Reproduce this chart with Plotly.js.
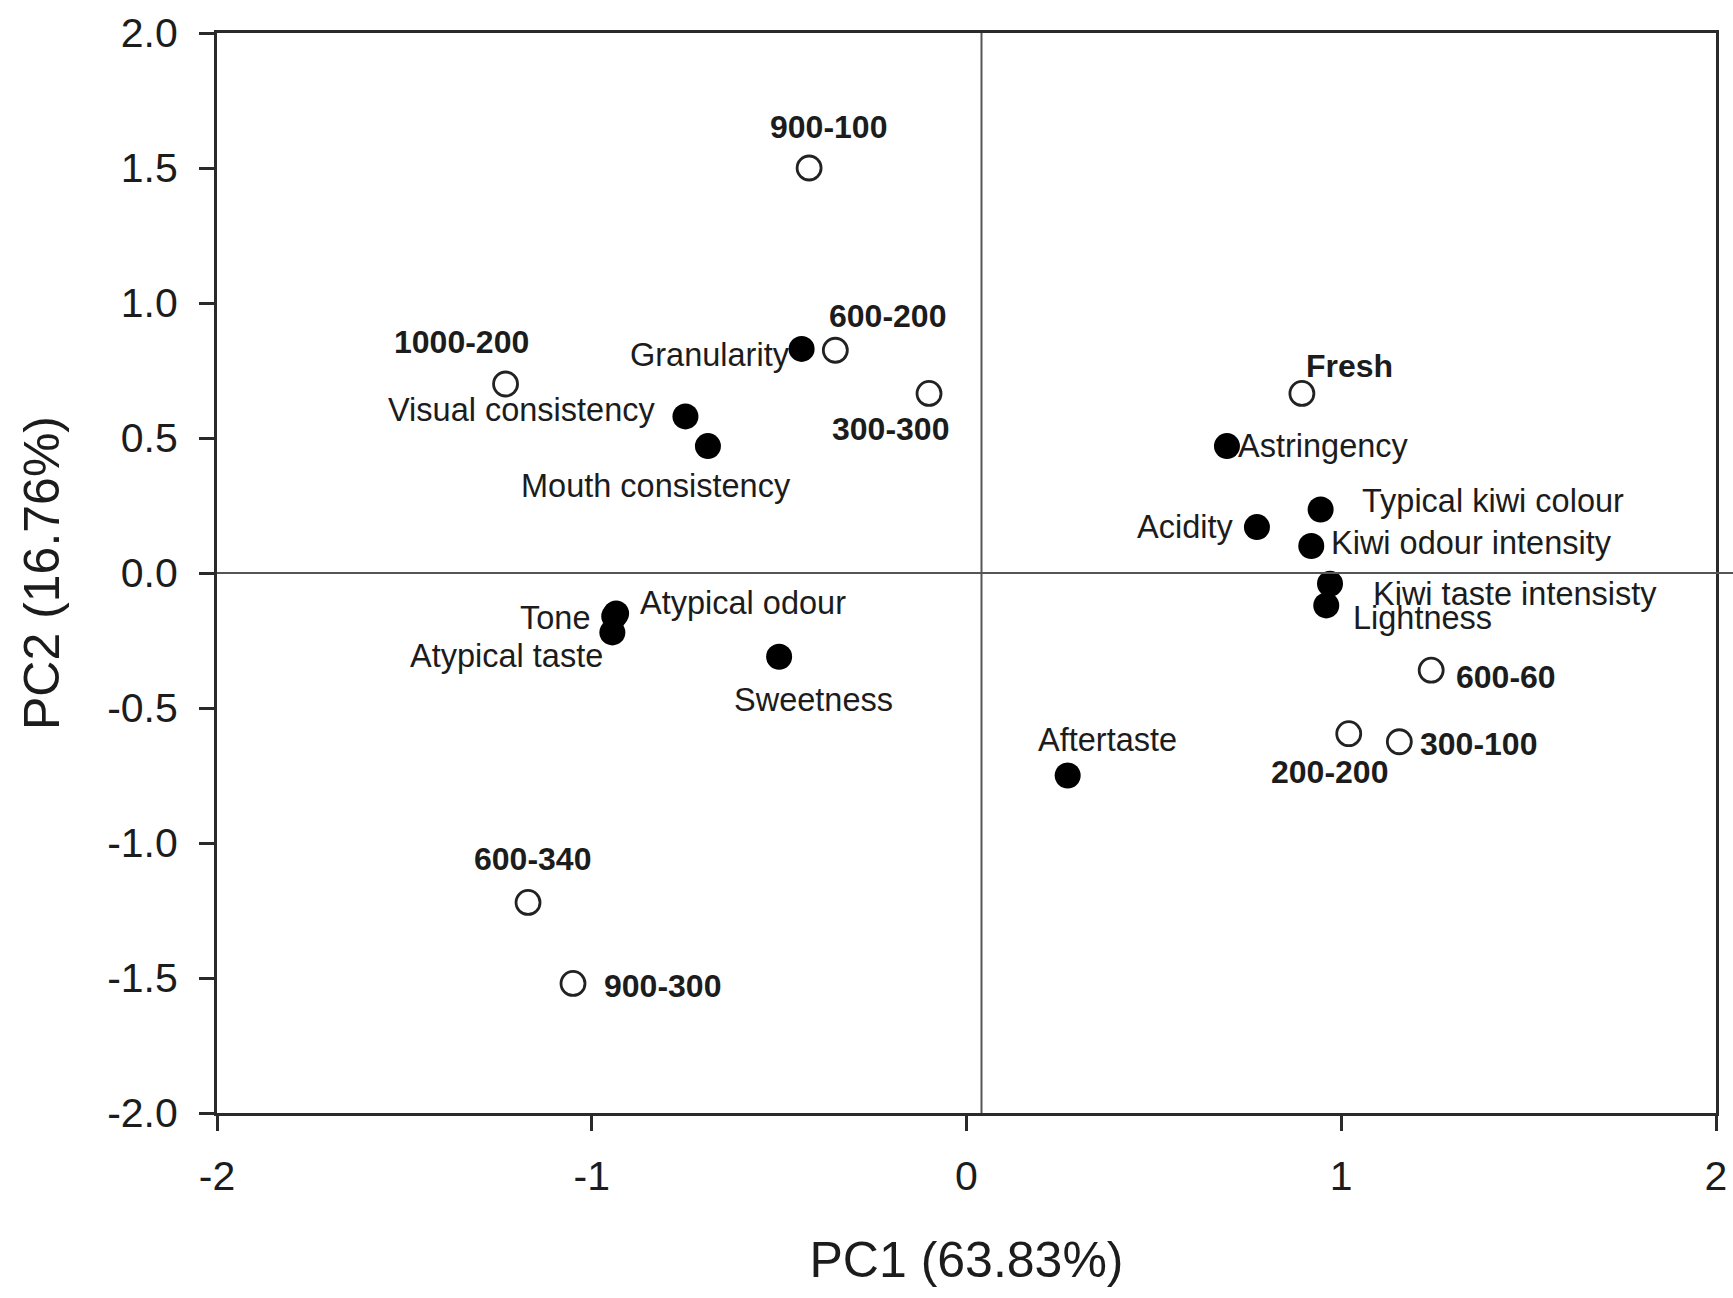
<!DOCTYPE html>
<html>
<head>
<meta charset="utf-8">
<script src="https://cdn.plot.ly/plotly-3.0.1.min.js"></script>
<style>
  html, body { margin: 0; padding: 0; background: #ffffff; }
  #chart { width: 1733px; height: 1298px; }
</style>
</head>
<body>
<div id="chart"></div>
<script>
// ---- Data ----
// Samples (open circles)
var sampleNames = ["900-100", "600-200", "300-300", "1000-200", "Fresh", "600-60", "200-200", "300-100", "600-340", "900-300"];
var samplePC1   = [-0.42, -0.35, -0.10, -1.23, 0.895, 1.24, 1.02, 1.155, -1.17, -1.05];
var samplePC2   = [1.50, 0.825, 0.665, 0.70, 0.665, -0.36, -0.595, -0.625, -1.22, -1.52];

// Sensory attributes (filled circles)
var attrNames = ["Granularity", "Visual consistency", "Mouth consistency", "Tone", "Atypical odour", "Atypical taste",
                 "Sweetness", "Aftertaste", "Astringency", "Acidity", "Typical kiwi colour", "Kiwi odour intensity",
                 "Kiwi taste intensisty", "Lightness"];
var attrPC1 = [-0.44, -0.75, -0.69, -0.94, -0.935, -0.945, -0.50, 0.27, 0.695, 0.775, 0.945, 0.92, 0.97, 0.96];
var attrPC2 = [0.83, 0.58, 0.47, -0.16, -0.15, -0.22, -0.31, -0.75, 0.47, 0.17, 0.235, 0.10, -0.04, -0.12];

// Axis ticks
var xTickVals = [-2, -1, 0, 1, 2];
var xTickText = ["-2", "-1", "0", "1", "2"];
var yTickVals = [-2.0, -1.5, -1.0, -0.5, 0.0, 0.5, 1.0, 1.5, 2.0];
var yTickText = ["-2.0", "-1.5", "-1.0", "-0.5", "0.0", "0.5", "1.0", "1.5", "2.0"];

var xTitle = "PC1 (63.83%)";
var yTitle = "PC2 (16.76%)";

// Reference line positions (as drawn in the source figure)
var vLineX = 0.04;
var hLineY = 0;

// ---- Label placement styles (pixel offsets; anchor) ----
var sampleLabelStyle = [
  {xa: "center", dx: 19,  dy: 41},   // 900-100
  {xa: "center", dx: 52,  dy: 34},   // 600-200
  {xa: "center", dx: -39, dy: -36},  // 300-300
  {xa: "center", dx: -44, dy: 42},   // 1000-200
  {xa: "center", dx: 48,  dy: 27},   // Fresh
  {xa: "left",   dx: 23,  dy: -7},   // 600-60
  {xa: "center", dx: -19, dy: -38},  // 200-200
  {xa: "left",   dx: 19,  dy: -2},   // 300-100
  {xa: "center", dx: 4,   dy: 43},   // 600-340
  {xa: "left",   dx: 29,  dy: -3}    // 900-300
];
var attrLabelStyle = [
  {xa: "right",  dx: -10, dy: -6},   // Granularity
  {xa: "right",  dx: -27, dy: 6},    // Visual consistency
  {xa: "center", dx: -52, dy: -40},  // Mouth consistency
  {xa: "right",  dx: -22, dy: -2},   // Tone
  {xa: "left",   dx: 22,  dy: 11},   // Atypical odour
  {xa: "right",  dx: -7,  dy: -24},  // Atypical taste
  {xa: "center", dx: 34,  dy: -43},  // Sweetness
  {xa: "center", dx: 40,  dy: 36},   // Aftertaste
  {xa: "left",   dx: 9,   dy: 0},    // Astringency
  {xa: "right",  dx: -22, dy: 0},    // Acidity
  {xa: "left",   dx: 39,  dy: 9},    // Typical kiwi colour
  {xa: "left",   dx: 18,  dy: 3},    // Kiwi odour intensity
  {xa: "left",   dx: 41,  dy: -10},  // Kiwi taste intensisty
  {xa: "left",   dx: 25,  dy: -13}   // Lightness
];

var FONT = "Liberation Sans, Arial, Helvetica, sans-serif";
var INK = "#1c1c1c";

var traces = [
  {
    type: "scatter", mode: "markers", name: "Samples",
    x: samplePC1, y: samplePC2, text: sampleNames, hoverinfo: "text",
    marker: {symbol: "circle-open", size: 24, color: "#222222", line: {width: 2.8, color: "#222222"}},
    cliponaxis: false
  },
  {
    type: "scatter", mode: "markers", name: "Attributes",
    x: attrPC1, y: attrPC2, text: attrNames, hoverinfo: "text",
    marker: {symbol: "circle", size: 26, color: "#000000", line: {width: 0}},
    cliponaxis: false
  }
];

var annotations = [];
sampleNames.forEach(function (n, i) {
  var s = sampleLabelStyle[i];
  annotations.push({
    x: samplePC1[i], y: samplePC2[i], xref: "x", yref: "y", text: "<b>" + n + "</b>",
    showarrow: false, xanchor: s.xa, yanchor: "middle", xshift: s.dx, yshift: s.dy,
    font: {family: FONT, size: 32, color: INK}
  });
});
attrNames.forEach(function (n, i) {
  var s = attrLabelStyle[i];
  annotations.push({
    x: attrPC1[i], y: attrPC2[i], xref: "x", yref: "y", text: n,
    showarrow: false, xanchor: s.xa, yanchor: "middle", xshift: s.dx, yshift: s.dy,
    font: {family: FONT, size: 32.5, color: INK}
  });
});

var layout = {
  width: 1733, height: 1298,
  paper_bgcolor: "#ffffff", plot_bgcolor: "#ffffff",
  margin: {l: 217, r: 17, t: 33, b: 185, pad: 0},
  showlegend: false,
  font: {family: FONT, color: INK},
  xaxis: {
    range: [-2, 2], tickvals: xTickVals, ticktext: xTickText,
    showgrid: false, zeroline: false,
    showline: true, linecolor: "#2a2a2a", linewidth: 3, mirror: true,
    ticks: "outside", ticklen: 15, tickwidth: 3, tickcolor: "#2a2a2a",
    ticklabelstandoff: 10,
    tickfont: {family: FONT, size: 41, color: INK},
    title: {text: xTitle, font: {family: FONT, size: 50, color: INK}, standoff: 44},
    automargin: false
  },
  yaxis: {
    range: [-2, 2], tickvals: yTickVals, ticktext: yTickText,
    showgrid: false, zeroline: false,
    showline: true, linecolor: "#2a2a2a", linewidth: 3, mirror: true,
    ticks: "outside", ticklen: 15, tickwidth: 3, tickcolor: "#2a2a2a",
    ticklabelstandoff: 13,
    tickfont: {family: FONT, size: 41, color: INK},
    title: {text: yTitle, font: {family: FONT, size: 50, color: INK}, standoff: 32},
    automargin: false
  },
  shapes: [
    {type: "line", xref: "paper", yref: "y", x0: 0, x1: 1.0116, y0: hLineY, y1: hLineY,
     line: {color: "#555555", width: 2}},
    {type: "line", xref: "x", yref: "paper", x0: vLineX, x1: vLineX, y0: 0, y1: 1,
     line: {color: "#555555", width: 2}}
  ],
  annotations: annotations
};

Plotly.newPlot("chart", traces, layout, {displayModeBar: false, staticPlot: true});
</script>
</body>
</html>
